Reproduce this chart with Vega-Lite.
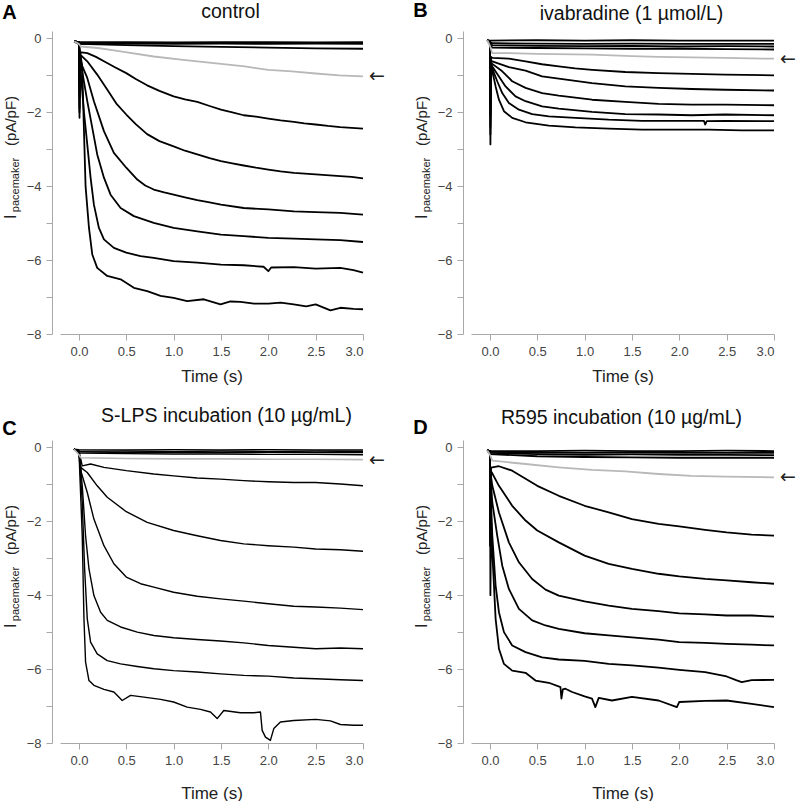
{
  "$schema": "https://vega.github.io/schema/vega-lite/v6.json",
  "background": "white",
  "padding": {"left": 2, "top": 1, "right": 0, "bottom": 0},
  "config": {
    "font": "Liberation Sans",
    "view": {"stroke": null},
    "axis": {"domainColor": "#a8a8a8", "tickColor": "#a8a8a8", "labelColor": "#444444", "titleColor": "#222222", "labelFontSize": 13, "titleFontSize": 17, "titleFontWeight": "normal", "grid": false, "tickSize": 6, "labelPadding": 5}
  },
  "datasets": {
    "A": [
      {"s":"a1","t":-0.05,"v":-0.08},{"s":"a1","t":0,"v":-0.1},{"s":"a1","t":0.5,"v":-0.1},{"s":"a1","t":1,"v":-0.11},{"s":"a1","t":1.5,"v":-0.1},{"s":"a1","t":2,"v":-0.1},{"s":"a1","t":2.5,"v":-0.11},{"s":"a1","t":3,"v":-0.1},
      {"s":"a2","t":-0.05,"v":-0.08},{"s":"a2","t":0,"v":-0.12},{"s":"a2","t":0.5,"v":-0.12},{"s":"a2","t":1,"v":-0.13},{"s":"a2","t":1.5,"v":-0.12},{"s":"a2","t":2,"v":-0.13},{"s":"a2","t":2.5,"v":-0.12},{"s":"a2","t":3,"v":-0.13},
      {"s":"a3","t":-0.05,"v":-0.08},{"s":"a3","t":0,"v":-0.15},{"s":"a3","t":0.5,"v":-0.14},{"s":"a3","t":1,"v":-0.15},{"s":"a3","t":1.5,"v":-0.14},{"s":"a3","t":2,"v":-0.15},{"s":"a3","t":2.5,"v":-0.14},{"s":"a3","t":3,"v":-0.15},
      {"s":"a4","t":-0.05,"v":-0.08},{"s":"a4","t":0,"v":-0.15},{"s":"a4","t":0.5,"v":-0.18},{"s":"a4","t":1,"v":-0.21},{"s":"a4","t":1.5,"v":-0.23},{"s":"a4","t":2,"v":-0.25},{"s":"a4","t":2.5,"v":-0.27},{"s":"a4","t":3,"v":-0.28},
      {"s":"g","t":-0.05,"v":-0.08},{"s":"g","t":0,"v":-0.15},{"s":"g","t":0.02,"v":-0.22},{"s":"g","t":0.2,"v":-0.26},{"s":"g","t":0.44,"v":-0.35},{"s":"g","t":0.79,"v":-0.49},{"s":"g","t":1.1,"v":-0.58},{"s":"g","t":1.5,"v":-0.69},{"s":"g","t":1.75,"v":-0.76},{"s":"g","t":2,"v":-0.85},{"s":"g","t":2.25,"v":-0.89},{"s":"g","t":2.5,"v":-0.95},{"s":"g","t":2.75,"v":-1.0},{"s":"g","t":3,"v":-1.03},
      {"s":"a5","t":-0.05,"v":-0.08},{"s":"a5","t":0,"v":-0.1},{"s":"a5","t":0.006,"v":-1.2},{"s":"a5","t":0.012,"v":-0.4},{"s":"a5","t":0.03,"v":-0.38},{"s":"a5","t":0.088,"v":-0.4},{"s":"a5","t":0.18,"v":-0.5},{"s":"a5","t":0.264,"v":-0.62},{"s":"a5","t":0.38,"v":-0.78},{"s":"a5","t":0.5,"v":-0.94},{"s":"a5","t":0.6,"v":-1.1},{"s":"a5","t":0.72,"v":-1.27},{"s":"a5","t":0.85,"v":-1.42},{"s":"a5","t":1,"v":-1.57},{"s":"a5","t":1.12,"v":-1.65},{"s":"a5","t":1.25,"v":-1.72},{"s":"a5","t":1.38,"v":-1.83},{"s":"a5","t":1.5,"v":-1.93},{"s":"a5","t":1.62,"v":-2.0},{"s":"a5","t":1.74,"v":-2.08},{"s":"a5","t":1.87,"v":-2.12},{"s":"a5","t":2,"v":-2.17},{"s":"a5","t":2.13,"v":-2.22},{"s":"a5","t":2.27,"v":-2.26},{"s":"a5","t":2.38,"v":-2.3},{"s":"a5","t":2.5,"v":-2.33},{"s":"a5","t":2.63,"v":-2.37},{"s":"a5","t":2.76,"v":-2.4},{"s":"a5","t":2.88,"v":-2.42},{"s":"a5","t":3,"v":-2.44},
      {"s":"a6","t":-0.05,"v":-0.08},{"s":"a6","t":0,"v":-0.1},{"s":"a6","t":0.006,"v":-1.6},{"s":"a6","t":0.012,"v":-0.45},{"s":"a6","t":0.03,"v":-0.48},{"s":"a6","t":0.088,"v":-0.62},{"s":"a6","t":0.193,"v":-0.98},{"s":"a6","t":0.3,"v":-1.39},{"s":"a6","t":0.4,"v":-1.78},{"s":"a6","t":0.5,"v":-2.06},{"s":"a6","t":0.6,"v":-2.32},{"s":"a6","t":0.72,"v":-2.59},{"s":"a6","t":0.85,"v":-2.78},{"s":"a6","t":1,"v":-2.92},{"s":"a6","t":1.12,"v":-3.04},{"s":"a6","t":1.25,"v":-3.14},{"s":"a6","t":1.38,"v":-3.24},{"s":"a6","t":1.5,"v":-3.32},{"s":"a6","t":1.62,"v":-3.38},{"s":"a6","t":1.74,"v":-3.44},{"s":"a6","t":1.87,"v":-3.5},{"s":"a6","t":2,"v":-3.55},{"s":"a6","t":2.13,"v":-3.6},{"s":"a6","t":2.27,"v":-3.64},{"s":"a6","t":2.5,"v":-3.68},{"s":"a6","t":2.76,"v":-3.73},{"s":"a6","t":2.88,"v":-3.75},{"s":"a6","t":3,"v":-3.79},
      {"s":"a7","t":-0.05,"v":-0.08},{"s":"a7","t":0,"v":-0.1},{"s":"a7","t":0.006,"v":-1.9},{"s":"a7","t":0.012,"v":-0.5},{"s":"a7","t":0.035,"v":-0.75},{"s":"a7","t":0.088,"v":-1.07},{"s":"a7","t":0.158,"v":-1.7},{"s":"a7","t":0.264,"v":-2.51},{"s":"a7","t":0.369,"v":-3.1},{"s":"a7","t":0.5,"v":-3.5},{"s":"a7","t":0.616,"v":-3.82},{"s":"a7","t":0.7,"v":-3.98},{"s":"a7","t":0.79,"v":-4.09},{"s":"a7","t":0.9,"v":-4.17},{"s":"a7","t":1,"v":-4.23},{"s":"a7","t":1.12,"v":-4.3},{"s":"a7","t":1.25,"v":-4.38},{"s":"a7","t":1.38,"v":-4.44},{"s":"a7","t":1.5,"v":-4.5},{"s":"a7","t":1.74,"v":-4.59},{"s":"a7","t":2,"v":-4.63},{"s":"a7","t":2.27,"v":-4.68},{"s":"a7","t":2.5,"v":-4.7},{"s":"a7","t":2.76,"v":-4.72},{"s":"a7","t":3,"v":-4.77},
      {"s":"a8","t":-0.05,"v":-0.08},{"s":"a8","t":0,"v":-0.1},{"s":"a8","t":0.006,"v":-2.15},{"s":"a8","t":0.012,"v":-0.6},{"s":"a8","t":0.035,"v":-0.9},{"s":"a8","t":0.088,"v":-1.7},{"s":"a8","t":0.141,"v":-2.42},{"s":"a8","t":0.193,"v":-3.14},{"s":"a8","t":0.264,"v":-3.77},{"s":"a8","t":0.334,"v":-4.23},{"s":"a8","t":0.44,"v":-4.59},{"s":"a8","t":0.58,"v":-4.81},{"s":"a8","t":0.79,"v":-4.99},{"s":"a8","t":1,"v":-5.13},{"s":"a8","t":1.25,"v":-5.22},{"s":"a8","t":1.5,"v":-5.31},{"s":"a8","t":1.74,"v":-5.35},{"s":"a8","t":2,"v":-5.4},{"s":"a8","t":2.27,"v":-5.42},{"s":"a8","t":2.5,"v":-5.44},{"s":"a8","t":2.76,"v":-5.46},{"s":"a8","t":3,"v":-5.51},
      {"s":"a9","t":-0.05,"v":-0.08},{"s":"a9","t":0,"v":-0.1},{"s":"a9","t":0.006,"v":-2.0},{"s":"a9","t":0.012,"v":-0.7},{"s":"a9","t":0.053,"v":-2.0},{"s":"a9","t":0.088,"v":-2.87},{"s":"a9","t":0.123,"v":-3.77},{"s":"a9","t":0.158,"v":-4.5},{"s":"a9","t":0.211,"v":-5.13},{"s":"a9","t":0.264,"v":-5.44},{"s":"a9","t":0.369,"v":-5.67},{"s":"a9","t":0.5,"v":-5.8},{"s":"a9","t":0.651,"v":-5.89},{"s":"a9","t":0.79,"v":-5.94},{"s":"a9","t":1,"v":-6.03},{"s":"a9","t":1.25,"v":-6.07},{"s":"a9","t":1.5,"v":-6.12},{"s":"a9","t":1.74,"v":-6.14},{"s":"a9","t":1.95,"v":-6.18},{"s":"a9","t":2,"v":-6.3},{"s":"a9","t":2.03,"v":-6.2},{"s":"a9","t":2.27,"v":-6.19},{"s":"a9","t":2.5,"v":-6.23},{"s":"a9","t":2.76,"v":-6.21},{"s":"a9","t":2.9,"v":-6.27},{"s":"a9","t":3,"v":-6.34},
      {"s":"a10","t":-0.05,"v":-0.08},{"s":"a10","t":0,"v":-0.1},{"s":"a10","t":0.035,"v":-0.8},{"s":"a10","t":0.053,"v":-2.5},{"s":"a10","t":0.07,"v":-4.0},{"s":"a10","t":0.106,"v":-5.13},{"s":"a10","t":0.141,"v":-5.85},{"s":"a10","t":0.193,"v":-6.21},{"s":"a10","t":0.299,"v":-6.43},{"s":"a10","t":0.44,"v":-6.52},{"s":"a10","t":0.58,"v":-6.75},{"s":"a10","t":0.721,"v":-6.84},{"s":"a10","t":0.862,"v":-6.97},{"s":"a10","t":1,"v":-7.02},{"s":"a10","t":1.143,"v":-7.11},{"s":"a10","t":1.319,"v":-7.06},{"s":"a10","t":1.495,"v":-7.2},{"s":"a10","t":1.6,"v":-7.12},{"s":"a10","t":1.706,"v":-7.13},{"s":"a10","t":1.85,"v":-7.18},{"s":"a10","t":2,"v":-7.18},{"s":"a10","t":2.13,"v":-7.15},{"s":"a10","t":2.269,"v":-7.2},{"s":"a10","t":2.4,"v":-7.25},{"s":"a10","t":2.5,"v":-7.2},{"s":"a10","t":2.656,"v":-7.36},{"s":"a10","t":2.761,"v":-7.29},{"s":"a10","t":2.9,"v":-7.32},{"s":"a10","t":3,"v":-7.33}
    ],
    "B": [
      {"s":"b1","t":-0.028,"v":-0.05},{"s":"b1","t":0,"v":-0.06},{"s":"b1","t":0.5,"v":-0.05},{"s":"b1","t":1,"v":-0.06},{"s":"b1","t":1.5,"v":-0.05},{"s":"b1","t":2,"v":-0.06},{"s":"b1","t":2.5,"v":-0.06},{"s":"b1","t":3,"v":-0.06},
      {"s":"b2","t":-0.028,"v":-0.05},{"s":"b2","t":0,"v":-0.1},{"s":"b2","t":0.025,"v":-0.13},{"s":"b2","t":0.5,"v":-0.14},{"s":"b2","t":1,"v":-0.15},{"s":"b2","t":1.5,"v":-0.14},{"s":"b2","t":2,"v":-0.15},{"s":"b2","t":2.5,"v":-0.15},{"s":"b2","t":3,"v":-0.15},
      {"s":"b3","t":-0.028,"v":-0.05},{"s":"b3","t":0,"v":-0.12},{"s":"b3","t":0.025,"v":-0.18},{"s":"b3","t":0.5,"v":-0.2},{"s":"b3","t":1,"v":-0.21},{"s":"b3","t":1.5,"v":-0.2},{"s":"b3","t":2,"v":-0.22},{"s":"b3","t":2.5,"v":-0.21},{"s":"b3","t":3,"v":-0.22},
      {"s":"b4","t":-0.028,"v":-0.05},{"s":"b4","t":0,"v":-0.15},{"s":"b4","t":0.025,"v":-0.25},{"s":"b4","t":0.5,"v":-0.26},{"s":"b4","t":1,"v":-0.27},{"s":"b4","t":1.5,"v":-0.28},{"s":"b4","t":2,"v":-0.28},{"s":"b4","t":2.5,"v":-0.29},{"s":"b4","t":3,"v":-0.3},
      {"s":"g","t":-0.028,"v":-0.05},{"s":"g","t":0,"v":-0.2},{"s":"g","t":0.025,"v":-0.4},{"s":"g","t":0.2,"v":-0.4},{"s":"g","t":0.5,"v":-0.42},{"s":"g","t":1.08,"v":-0.44},{"s":"g","t":1.5,"v":-0.48},{"s":"g","t":1.78,"v":-0.5},{"s":"g","t":2.48,"v":-0.53},{"s":"g","t":3,"v":-0.55},
      {"s":"b5","t":-0.028,"v":-0.05},{"s":"b5","t":0,"v":-0.1},{"s":"b5","t":0.005,"v":-1.5},{"s":"b5","t":0.012,"v":-0.5},{"s":"b5","t":0.025,"v":-0.53},{"s":"b5","t":0.2,"v":-0.55},{"s":"b5","t":0.376,"v":-0.62},{"s":"b5","t":0.55,"v":-0.7},{"s":"b5","t":0.727,"v":-0.76},{"s":"b5","t":0.9,"v":-0.81},{"s":"b5","t":1.08,"v":-0.85},{"s":"b5","t":1.43,"v":-0.91},{"s":"b5","t":1.78,"v":-0.94},{"s":"b5","t":2.13,"v":-0.96},{"s":"b5","t":2.48,"v":-0.98},{"s":"b5","t":3,"v":-1.0},
      {"s":"b6","t":-0.028,"v":-0.05},{"s":"b6","t":0,"v":-0.1},{"s":"b6","t":0.005,"v":-1.8},{"s":"b6","t":0.012,"v":-0.6},{"s":"b6","t":0.025,"v":-0.62},{"s":"b6","t":0.2,"v":-0.78},{"s":"b6","t":0.376,"v":-0.87},{"s":"b6","t":0.551,"v":-1.03},{"s":"b6","t":0.727,"v":-1.09},{"s":"b6","t":1.078,"v":-1.21},{"s":"b6","t":1.43,"v":-1.3},{"s":"b6","t":1.781,"v":-1.34},{"s":"b6","t":2.13,"v":-1.37},{"s":"b6","t":2.483,"v":-1.39},{"s":"b6","t":3,"v":-1.41},
      {"s":"b7","t":-0.028,"v":-0.05},{"s":"b7","t":0,"v":-0.1},{"s":"b7","t":0.005,"v":-2.1},{"s":"b7","t":0.012,"v":-0.65},{"s":"b7","t":0.025,"v":-0.69},{"s":"b7","t":0.13,"v":-0.89},{"s":"b7","t":0.235,"v":-1.16},{"s":"b7","t":0.376,"v":-1.34},{"s":"b7","t":0.551,"v":-1.48},{"s":"b7","t":0.727,"v":-1.55},{"s":"b7","t":1.078,"v":-1.66},{"s":"b7","t":1.43,"v":-1.72},{"s":"b7","t":1.781,"v":-1.77},{"s":"b7","t":2.13,"v":-1.79},{"s":"b7","t":2.483,"v":-1.79},{"s":"b7","t":3,"v":-1.81},
      {"s":"b8","t":-0.028,"v":-0.05},{"s":"b8","t":0,"v":-0.1},{"s":"b8","t":0.005,"v":-2.4},{"s":"b8","t":0.012,"v":-0.7},{"s":"b8","t":0.025,"v":-0.76},{"s":"b8","t":0.095,"v":-1.03},{"s":"b8","t":0.165,"v":-1.3},{"s":"b8","t":0.27,"v":-1.57},{"s":"b8","t":0.376,"v":-1.7},{"s":"b8","t":0.551,"v":-1.84},{"s":"b8","t":0.727,"v":-1.9},{"s":"b8","t":1.078,"v":-1.99},{"s":"b8","t":1.43,"v":-2.05},{"s":"b8","t":1.781,"v":-2.06},{"s":"b8","t":2.13,"v":-2.08},{"s":"b8","t":2.483,"v":-2.06},{"s":"b8","t":3,"v":-2.08},
      {"s":"b9","t":-0.028,"v":-0.05},{"s":"b9","t":0,"v":-0.1},{"s":"b9","t":0.005,"v":-2.6},{"s":"b9","t":0.012,"v":-0.75},{"s":"b9","t":0.025,"v":-0.82},{"s":"b9","t":0.077,"v":-1.16},{"s":"b9","t":0.13,"v":-1.48},{"s":"b9","t":0.2,"v":-1.75},{"s":"b9","t":0.306,"v":-1.93},{"s":"b9","t":0.446,"v":-2.05},{"s":"b9","t":0.622,"v":-2.11},{"s":"b9","t":0.903,"v":-2.15},{"s":"b9","t":1.254,"v":-2.2},{"s":"b9","t":1.605,"v":-2.23},{"s":"b9","t":1.956,"v":-2.23},{"s":"b9","t":2.26,"v":-2.23},{"s":"b9","t":2.273,"v":-2.33},{"s":"b9","t":2.29,"v":-2.24},{"s":"b9","t":2.483,"v":-2.23},{"s":"b9","t":3,"v":-2.24},
      {"s":"b10","t":-0.028,"v":-0.05},{"s":"b10","t":0,"v":-0.1},{"s":"b10","t":0.005,"v":-2.87},{"s":"b10","t":0.012,"v":-0.8},{"s":"b10","t":0.025,"v":-0.89},{"s":"b10","t":0.06,"v":-1.3},{"s":"b10","t":0.095,"v":-1.66},{"s":"b10","t":0.148,"v":-1.97},{"s":"b10","t":0.235,"v":-2.15},{"s":"b10","t":0.376,"v":-2.27},{"s":"b10","t":0.622,"v":-2.36},{"s":"b10","t":0.903,"v":-2.41},{"s":"b10","t":1.254,"v":-2.44},{"s":"b10","t":1.605,"v":-2.47},{"s":"b10","t":1.956,"v":-2.47},{"s":"b10","t":2.308,"v":-2.47},{"s":"b10","t":2.659,"v":-2.49},{"s":"b10","t":3,"v":-2.49}
    ],
    "C": [
      {"s":"c1","t":-0.053,"v":-0.05},{"s":"c1","t":0,"v":-0.06},{"s":"c1","t":0.5,"v":-0.07},{"s":"c1","t":1,"v":-0.06},{"s":"c1","t":1.5,"v":-0.07},{"s":"c1","t":2,"v":-0.06},{"s":"c1","t":2.5,"v":-0.07},{"s":"c1","t":3,"v":-0.07},
      {"s":"c2","t":-0.053,"v":-0.05},{"s":"c2","t":0,"v":-0.1},{"s":"c2","t":0.5,"v":-0.1},{"s":"c2","t":1,"v":-0.11},{"s":"c2","t":1.5,"v":-0.1},{"s":"c2","t":2,"v":-0.11},{"s":"c2","t":2.5,"v":-0.1},{"s":"c2","t":3,"v":-0.11},
      {"s":"c3","t":-0.053,"v":-0.05},{"s":"c3","t":0,"v":-0.12},{"s":"c3","t":0.5,"v":-0.14},{"s":"c3","t":1,"v":-0.13},{"s":"c3","t":1.5,"v":-0.14},{"s":"c3","t":2,"v":-0.13},{"s":"c3","t":2.5,"v":-0.14},{"s":"c3","t":3,"v":-0.14},
      {"s":"c4","t":-0.053,"v":-0.05},{"s":"c4","t":0,"v":-0.15},{"s":"c4","t":0.5,"v":-0.17},{"s":"c4","t":1,"v":-0.18},{"s":"c4","t":1.5,"v":-0.18},{"s":"c4","t":2,"v":-0.19},{"s":"c4","t":2.5,"v":-0.19},{"s":"c4","t":3,"v":-0.2},
      {"s":"g","t":-0.053,"v":-0.05},{"s":"g","t":0,"v":-0.2},{"s":"g","t":0.02,"v":-0.28},{"s":"g","t":0.5,"v":-0.3},{"s":"g","t":1,"v":-0.31},{"s":"g","t":1.5,"v":-0.31},{"s":"g","t":2,"v":-0.32},{"s":"g","t":2.5,"v":-0.32},{"s":"g","t":3,"v":-0.33},
      {"s":"c5","t":-0.053,"v":-0.05},{"s":"c5","t":0,"v":-0.1},{"s":"c5","t":0.035,"v":-0.5},{"s":"c5","t":0.123,"v":-0.45},{"s":"c5","t":0.264,"v":-0.54},{"s":"c5","t":0.5,"v":-0.63},{"s":"c5","t":0.791,"v":-0.72},{"s":"c5","t":1,"v":-0.77},{"s":"c5","t":1.249,"v":-0.83},{"s":"c5","t":1.495,"v":-0.86},{"s":"c5","t":1.741,"v":-0.9},{"s":"c5","t":2,"v":-0.93},{"s":"c5","t":2.269,"v":-0.95},{"s":"c5","t":2.5,"v":-0.95},{"s":"c5","t":2.761,"v":-0.99},{"s":"c5","t":3,"v":-1.04},
      {"s":"c6","t":-0.053,"v":-0.05},{"s":"c6","t":0,"v":-0.1},{"s":"c6","t":0.018,"v":-0.54},{"s":"c6","t":0.088,"v":-0.68},{"s":"c6","t":0.193,"v":-1.04},{"s":"c6","t":0.299,"v":-1.35},{"s":"c6","t":0.5,"v":-1.74},{"s":"c6","t":0.721,"v":-2.03},{"s":"c6","t":1,"v":-2.25},{"s":"c6","t":1.249,"v":-2.39},{"s":"c6","t":1.495,"v":-2.52},{"s":"c6","t":1.741,"v":-2.61},{"s":"c6","t":2,"v":-2.66},{"s":"c6","t":2.269,"v":-2.7},{"s":"c6","t":2.5,"v":-2.75},{"s":"c6","t":2.761,"v":-2.77},{"s":"c6","t":3,"v":-2.81},
      {"s":"c7","t":-0.053,"v":-0.05},{"s":"c7","t":0,"v":-0.1},{"s":"c7","t":0.025,"v":-0.68},{"s":"c7","t":0.088,"v":-1.22},{"s":"c7","t":0.158,"v":-1.94},{"s":"c7","t":0.264,"v":-2.66},{"s":"c7","t":0.369,"v":-3.15},{"s":"c7","t":0.5,"v":-3.51},{"s":"c7","t":0.651,"v":-3.69},{"s":"c7","t":0.791,"v":-3.78},{"s":"c7","t":1,"v":-3.92},{"s":"c7","t":1.249,"v":-4.03},{"s":"c7","t":1.495,"v":-4.1},{"s":"c7","t":1.741,"v":-4.16},{"s":"c7","t":2,"v":-4.23},{"s":"c7","t":2.269,"v":-4.3},{"s":"c7","t":2.5,"v":-4.32},{"s":"c7","t":2.761,"v":-4.35},{"s":"c7","t":3,"v":-4.39},
      {"s":"c8","t":-0.053,"v":-0.05},{"s":"c8","t":0,"v":-0.1},{"s":"c8","t":0.035,"v":-1.04},{"s":"c8","t":0.07,"v":-2.39},{"s":"c8","t":0.106,"v":-3.29},{"s":"c8","t":0.158,"v":-4.01},{"s":"c8","t":0.229,"v":-4.46},{"s":"c8","t":0.299,"v":-4.68},{"s":"c8","t":0.44,"v":-4.86},{"s":"c8","t":0.616,"v":-5.0},{"s":"c8","t":0.791,"v":-5.09},{"s":"c8","t":1,"v":-5.15},{"s":"c8","t":1.249,"v":-5.2},{"s":"c8","t":1.495,"v":-5.24},{"s":"c8","t":1.741,"v":-5.29},{"s":"c8","t":2,"v":-5.36},{"s":"c8","t":2.269,"v":-5.41},{"s":"c8","t":2.5,"v":-5.45},{"s":"c8","t":2.761,"v":-5.43},{"s":"c8","t":3,"v":-5.45},
      {"s":"c9","t":-0.053,"v":-0.05},{"s":"c9","t":0,"v":-0.1},{"s":"c9","t":0.035,"v":-1.49},{"s":"c9","t":0.06,"v":-3.29},{"s":"c9","t":0.088,"v":-4.64},{"s":"c9","t":0.123,"v":-5.27},{"s":"c9","t":0.193,"v":-5.59},{"s":"c9","t":0.299,"v":-5.77},{"s":"c9","t":0.44,"v":-5.86},{"s":"c9","t":0.616,"v":-5.93},{"s":"c9","t":0.791,"v":-5.99},{"s":"c9","t":1,"v":-6.04},{"s":"c9","t":1.249,"v":-6.08},{"s":"c9","t":1.495,"v":-6.13},{"s":"c9","t":1.741,"v":-6.17},{"s":"c9","t":2,"v":-6.19},{"s":"c9","t":2.269,"v":-6.24},{"s":"c9","t":2.5,"v":-6.26},{"s":"c9","t":2.761,"v":-6.29},{"s":"c9","t":3,"v":-6.31},
      {"s":"c10","t":-0.053,"v":-0.05},{"s":"c10","t":0,"v":-0.1},{"s":"c10","t":0.035,"v":-2.39},{"s":"c10","t":0.053,"v":-4.64},{"s":"c10","t":0.07,"v":-5.81},{"s":"c10","t":0.106,"v":-6.31},{"s":"c10","t":0.158,"v":-6.44},{"s":"c10","t":0.264,"v":-6.55},{"s":"c10","t":0.369,"v":-6.62},{"s":"c10","t":0.457,"v":-6.85},{"s":"c10","t":0.545,"v":-6.71},{"s":"c10","t":0.686,"v":-6.76},{"s":"c10","t":0.862,"v":-6.82},{"s":"c10","t":1,"v":-6.89},{"s":"c10","t":1.143,"v":-7.03},{"s":"c10","t":1.284,"v":-7.09},{"s":"c10","t":1.389,"v":-7.16},{"s":"c10","t":1.46,"v":-7.34},{"s":"c10","t":1.53,"v":-7.12},{"s":"c10","t":1.706,"v":-7.18},{"s":"c10","t":1.847,"v":-7.18},{"s":"c10","t":1.917,"v":-7.16},{"s":"c10","t":1.935,"v":-7.66},{"s":"c10","t":1.97,"v":-7.84},{"s":"c10","t":2.022,"v":-7.93},{"s":"c10","t":2.058,"v":-7.61},{"s":"c10","t":2.128,"v":-7.43},{"s":"c10","t":2.269,"v":-7.39},{"s":"c10","t":2.5,"v":-7.36},{"s":"c10","t":2.656,"v":-7.4},{"s":"c10","t":2.761,"v":-7.5},{"s":"c10","t":2.902,"v":-7.52},{"s":"c10","t":3,"v":-7.52}
    ],
    "D": [
      {"s":"d1","t":-0.028,"v":-0.08},{"s":"d1","t":0,"v":-0.1},{"s":"d1","t":0.5,"v":-0.1},{"s":"d1","t":1,"v":-0.09},{"s":"d1","t":1.5,"v":-0.1},{"s":"d1","t":2,"v":-0.1},{"s":"d1","t":2.5,"v":-0.09},{"s":"d1","t":3,"v":-0.1},
      {"s":"d2","t":-0.028,"v":-0.08},{"s":"d2","t":0,"v":-0.12},{"s":"d2","t":0.5,"v":-0.14},{"s":"d2","t":1,"v":-0.15},{"s":"d2","t":1.5,"v":-0.14},{"s":"d2","t":2,"v":-0.15},{"s":"d2","t":2.5,"v":-0.15},{"s":"d2","t":3,"v":-0.15},
      {"s":"d3","t":-0.028,"v":-0.08},{"s":"d3","t":0,"v":-0.15},{"s":"d3","t":0.5,"v":-0.18},{"s":"d3","t":1,"v":-0.2},{"s":"d3","t":1.5,"v":-0.19},{"s":"d3","t":2,"v":-0.2},{"s":"d3","t":2.5,"v":-0.2},{"s":"d3","t":3,"v":-0.21},
      {"s":"d4","t":-0.028,"v":-0.08},{"s":"d4","t":0,"v":-0.18},{"s":"d4","t":0.5,"v":-0.24},{"s":"d4","t":1,"v":-0.26},{"s":"d4","t":1.5,"v":-0.27},{"s":"d4","t":2,"v":-0.28},{"s":"d4","t":2.5,"v":-0.28},{"s":"d4","t":3,"v":-0.28},
      {"s":"g","t":-0.028,"v":-0.08},{"s":"g","t":0,"v":-0.2},{"s":"g","t":0.025,"v":-0.36},{"s":"g","t":0.376,"v":-0.45},{"s":"g","t":0.727,"v":-0.54},{"s":"g","t":1.078,"v":-0.61},{"s":"g","t":1.43,"v":-0.65},{"s":"g","t":1.781,"v":-0.72},{"s":"g","t":2.13,"v":-0.77},{"s":"g","t":2.483,"v":-0.79},{"s":"g","t":3,"v":-0.81},
      {"s":"d5","t":-0.028,"v":-0.08},{"s":"d5","t":0,"v":-0.1},{"s":"d5","t":0.005,"v":-2.0},{"s":"d5","t":0.012,"v":-0.55},{"s":"d5","t":0.025,"v":-0.54},{"s":"d5","t":0.095,"v":-0.51},{"s":"d5","t":0.235,"v":-0.63},{"s":"d5","t":0.5,"v":-1.04},{"s":"d5","t":0.727,"v":-1.31},{"s":"d5","t":1,"v":-1.58},{"s":"d5","t":1.254,"v":-1.76},{"s":"d5","t":1.5,"v":-1.94},{"s":"d5","t":1.781,"v":-2.07},{"s":"d5","t":2,"v":-2.14},{"s":"d5","t":2.273,"v":-2.23},{"s":"d5","t":2.5,"v":-2.3},{"s":"d5","t":2.764,"v":-2.36},{"s":"d5","t":3,"v":-2.39},
      {"s":"d6","t":-0.028,"v":-0.08},{"s":"d6","t":0,"v":-0.1},{"s":"d6","t":0.005,"v":-2.4},{"s":"d6","t":0.012,"v":-0.65},{"s":"d6","t":0.02,"v":-0.68},{"s":"d6","t":0.095,"v":-1.04},{"s":"d6","t":0.235,"v":-1.58},{"s":"d6","t":0.376,"v":-1.98},{"s":"d6","t":0.5,"v":-2.25},{"s":"d6","t":0.727,"v":-2.57},{"s":"d6","t":1,"v":-2.93},{"s":"d6","t":1.254,"v":-3.15},{"s":"d6","t":1.5,"v":-3.29},{"s":"d6","t":1.781,"v":-3.42},{"s":"d6","t":2,"v":-3.49},{"s":"d6","t":2.273,"v":-3.56},{"s":"d6","t":2.5,"v":-3.6},{"s":"d6","t":2.764,"v":-3.65},{"s":"d6","t":3,"v":-3.69},
      {"s":"d7","t":-0.028,"v":-0.08},{"s":"d7","t":0,"v":-0.1},{"s":"d7","t":0.005,"v":-2.66},{"s":"d7","t":0.012,"v":-0.8},{"s":"d7","t":0.025,"v":-1.04},{"s":"d7","t":0.095,"v":-1.76},{"s":"d7","t":0.2,"v":-2.57},{"s":"d7","t":0.306,"v":-3.11},{"s":"d7","t":0.446,"v":-3.56},{"s":"d7","t":0.587,"v":-3.85},{"s":"d7","t":0.727,"v":-4.01},{"s":"d7","t":1,"v":-4.17},{"s":"d7","t":1.254,"v":-4.28},{"s":"d7","t":1.5,"v":-4.37},{"s":"d7","t":1.781,"v":-4.43},{"s":"d7","t":2,"v":-4.49},{"s":"d7","t":2.273,"v":-4.52},{"s":"d7","t":2.5,"v":-4.55},{"s":"d7","t":2.764,"v":-4.55},{"s":"d7","t":3,"v":-4.58},
      {"s":"d8","t":-0.028,"v":-0.08},{"s":"d8","t":0,"v":-0.1},{"s":"d8","t":0.005,"v":-2.66},{"s":"d8","t":0.012,"v":-1.0},{"s":"d8","t":0.025,"v":-1.49},{"s":"d8","t":0.077,"v":-2.39},{"s":"d8","t":0.13,"v":-3.2},{"s":"d8","t":0.2,"v":-3.83},{"s":"d8","t":0.306,"v":-4.37},{"s":"d8","t":0.446,"v":-4.68},{"s":"d8","t":0.587,"v":-4.82},{"s":"d8","t":0.727,"v":-4.91},{"s":"d8","t":1,"v":-5.03},{"s":"d8","t":1.254,"v":-5.09},{"s":"d8","t":1.5,"v":-5.14},{"s":"d8","t":1.781,"v":-5.2},{"s":"d8","t":2,"v":-5.27},{"s":"d8","t":2.273,"v":-5.29},{"s":"d8","t":2.5,"v":-5.32},{"s":"d8","t":2.764,"v":-5.34},{"s":"d8","t":3,"v":-5.36},
      {"s":"d9","t":-0.028,"v":-0.08},{"s":"d9","t":0,"v":-0.1},{"s":"d9","t":0.005,"v":-2.66},{"s":"d9","t":0.012,"v":-1.5},{"s":"d9","t":0.025,"v":-2.39},{"s":"d9","t":0.06,"v":-3.74},{"s":"d9","t":0.095,"v":-4.46},{"s":"d9","t":0.148,"v":-5.0},{"s":"d9","t":0.235,"v":-5.36},{"s":"d9","t":0.376,"v":-5.54},{"s":"d9","t":0.551,"v":-5.68},{"s":"d9","t":0.727,"v":-5.74},{"s":"d9","t":1,"v":-5.78},{"s":"d9","t":1.254,"v":-5.86},{"s":"d9","t":1.5,"v":-5.9},{"s":"d9","t":1.781,"v":-5.96},{"s":"d9","t":2,"v":-6.02},{"s":"d9","t":2.273,"v":-6.08},{"s":"d9","t":2.5,"v":-6.2},{"s":"d9","t":2.6,"v":-6.3},{"s":"d9","t":2.659,"v":-6.35},{"s":"d9","t":2.764,"v":-6.3},{"s":"d9","t":3,"v":-6.29},
      {"s":"d10","t":-0.028,"v":-0.08},{"s":"d10","t":0,"v":-0.1},{"s":"d10","t":0.005,"v":-4.0},{"s":"d10","t":0.012,"v":-2.0},{"s":"d10","t":0.025,"v":-2.84},{"s":"d10","t":0.06,"v":-4.64},{"s":"d10","t":0.095,"v":-5.45},{"s":"d10","t":0.148,"v":-5.86},{"s":"d10","t":0.235,"v":-6.04},{"s":"d10","t":0.376,"v":-6.1},{"s":"d10","t":0.481,"v":-6.31},{"s":"d10","t":0.622,"v":-6.37},{"s":"d10","t":0.745,"v":-6.49},{"s":"d10","t":0.755,"v":-6.8},{"s":"d10","t":0.77,"v":-6.55},{"s":"d10","t":0.797,"v":-6.53},{"s":"d10","t":0.868,"v":-6.62},{"s":"d10","t":1,"v":-6.74},{"s":"d10","t":1.078,"v":-6.8},{"s":"d10","t":1.113,"v":-7.03},{"s":"d10","t":1.149,"v":-6.78},{"s":"d10","t":1.289,"v":-6.85},{"s":"d10","t":1.5,"v":-6.75},{"s":"d10","t":1.781,"v":-6.85},{"s":"d10","t":1.974,"v":-7.03},{"s":"d10","t":2,"v":-6.89},{"s":"d10","t":2.273,"v":-6.86},{"s":"d10","t":2.5,"v":-6.85},{"s":"d10","t":2.764,"v":-6.94},{"s":"d10","t":3,"v":-7.03}
    ]
  },
  "columns": 2,
  "spacing": {"row": 21, "column": 28},
  "concat": [
    {
      "width": 303, "height": 303,
      "data": {"name": "A"},
      "title": {"text": "A", "anchor": "start", "frame": "bounds", "fontSize": 20, "fontWeight": "bold", "color": "black", "baseline": "alphabetic", "offset": -21, "dy": 16.5},
      "layer": [
        {"transform": [{"filter": "datum.s !== 'g'"}],
         "mark": {"type": "line", "strokeWidth": 1.8, "strokeJoin": "round", "color": "black"},
         "encoding": {
           "x": {"field": "t", "type": "quantitative", "scale": {"domain": [-0.2, 3], "nice": false, "zero": false}, "axis": {"orient": "bottom", "values": [0, 0.5, 1, 1.5, 2, 2.5, 3], "format": ".1f", "title": "Time (s)", "titlePadding": 10, "labelPadding": 5}},
           "y": {"field": "v", "type": "quantitative", "scale": {"domain": [-8, 0.2], "nice": false, "zero": false}, "axis": {"orient": "left", "values": [-8, -7, -6, -5, -4, -3, -2, -1, 0], "labelExpr": "datum.value % 2 == 0 ? datum.label : ''", "offset": 8, "title": "(pA/pF)", "titleFontSize": 15, "titleX": -36.8, "titleY": 89.4, "titleAngle": 270, "titleAlign": "center", "titleBaseline": "alphabetic"}},
           "detail": {"field": "s"}
         }},
        {"transform": [{"filter": "datum.s === 'g'"}],
         "mark": {"type": "line", "strokeWidth": 1.8, "strokeJoin": "round", "color": "#b8b8b8"},
         "encoding": {
           "x": {"field": "t", "type": "quantitative", "scale": {"domain": [-0.2, 3], "nice": false, "zero": false}, "axis": {"orient": "top", "title": "control", "labels": false, "ticks": false, "domain": false, "titleFontSize": 19.5, "titleColor": "#111111", "titleX": 170, "titleY": -13.5, "titleAlign": "center", "titleBaseline": "alphabetic"}},
           "y": {"field": "v", "type": "quantitative", "scale": {"domain": [-8, 0.2], "nice": false, "zero": false}, "axis": {"orient": "left", "offset": 8, "domain": false, "ticks": false, "labels": false, "title": "pacemaker", "titleFontSize": 11, "titleX": -33.8, "titleY": 153.5, "titleAngle": 270, "titleAlign": "center", "titleBaseline": "alphabetic"}}
         }},
        {"transform": [{"filter": "datum.s === 'g' && datum.t === 3"}],
         "mark": {"type": "text", "text": "←", "align": "left", "baseline": "middle", "dx": 6, "fontSize": 19, "font": "DejaVu Sans", "color": "#222222"},
         "encoding": {
           "x": {"field": "t", "type": "quantitative", "scale": {"domain": [-0.2, 3], "nice": false, "zero": false}, "axis": null},
           "y": {"field": "v", "type": "quantitative", "scale": {"domain": [-8, 0.2], "nice": false, "zero": false}, "axis": {"orient": "left", "offset": 8, "domain": false, "ticks": false, "labels": false, "title": "I", "titleFontSize": 16, "titleX": -36.8, "titleY": 185.4, "titleAngle": 270, "titleAlign": "center", "titleBaseline": "alphabetic"}}
         }}
      ],
      "resolve": {"axis": {"x": "independent", "y": "independent"}}
    },
    {
      "width": 303, "height": 303,
      "data": {"name": "B"},
      "title": {"text": "B", "anchor": "start", "frame": "bounds", "fontSize": 20, "fontWeight": "bold", "color": "black", "baseline": "alphabetic", "offset": -21, "dy": 13},
      "layer": [
        {"transform": [{"filter": "datum.s !== 'g'"}],
         "mark": {"type": "line", "strokeWidth": 1.8, "strokeJoin": "round", "color": "black"},
         "encoding": {
           "x": {"field": "t", "type": "quantitative", "scale": {"domain": [-0.2, 3], "nice": false, "zero": false}, "axis": {"orient": "bottom", "values": [0, 0.5, 1, 1.5, 2, 2.5, 3], "format": ".1f", "title": "Time (s)", "titlePadding": 10, "labelPadding": 5}},
           "y": {"field": "v", "type": "quantitative", "scale": {"domain": [-8, 0.2], "nice": false, "zero": false}, "axis": {"orient": "left", "values": [-8, -7, -6, -5, -4, -3, -2, -1, 0], "labelExpr": "datum.value % 2 == 0 ? datum.label : ''", "offset": 8, "title": "(pA/pF)", "titleFontSize": 15, "titleX": -36.8, "titleY": 89.4, "titleAngle": 270, "titleAlign": "center", "titleBaseline": "alphabetic"}},
           "detail": {"field": "s"}
         }},
        {"transform": [{"filter": "datum.s === 'g'"}],
         "mark": {"type": "line", "strokeWidth": 1.8, "strokeJoin": "round", "color": "#b8b8b8"},
         "encoding": {
           "x": {"field": "t", "type": "quantitative", "scale": {"domain": [-0.2, 3], "nice": false, "zero": false}, "axis": {"orient": "top", "title": "ivabradine (1 µmol/L)", "labels": false, "ticks": false, "domain": false, "titleFontSize": 19.5, "titleColor": "#111111", "titleX": 160, "titleY": -11.6, "titleAlign": "center", "titleBaseline": "alphabetic"}},
           "y": {"field": "v", "type": "quantitative", "scale": {"domain": [-8, 0.2], "nice": false, "zero": false}, "axis": {"orient": "left", "offset": 8, "domain": false, "ticks": false, "labels": false, "title": "pacemaker", "titleFontSize": 11, "titleX": -33.8, "titleY": 153.5, "titleAngle": 270, "titleAlign": "center", "titleBaseline": "alphabetic"}}
         }},
        {"transform": [{"filter": "datum.s === 'g' && datum.t === 3"}],
         "mark": {"type": "text", "text": "←", "align": "left", "baseline": "middle", "dx": 6, "fontSize": 19, "font": "DejaVu Sans", "color": "#222222"},
         "encoding": {
           "x": {"field": "t", "type": "quantitative", "scale": {"domain": [-0.2, 3], "nice": false, "zero": false}, "axis": null},
           "y": {"field": "v", "type": "quantitative", "scale": {"domain": [-8, 0.2], "nice": false, "zero": false}, "axis": {"orient": "left", "offset": 8, "domain": false, "ticks": false, "labels": false, "title": "I", "titleFontSize": 16, "titleX": -36.8, "titleY": 185.4, "titleAngle": 270, "titleAlign": "center", "titleBaseline": "alphabetic"}}
         }}
      ],
      "resolve": {"axis": {"x": "independent", "y": "independent"}}
    },
    {
      "width": 303, "height": 303,
      "data": {"name": "C"},
      "title": {"text": "C", "anchor": "start", "frame": "bounds", "fontSize": 20, "fontWeight": "bold", "color": "black", "baseline": "alphabetic", "offset": -21, "dy": 29},
      "layer": [
        {"transform": [{"filter": "datum.s !== 'g'"}],
         "mark": {"type": "line", "strokeWidth": 1.4, "strokeJoin": "round", "color": "black"},
         "encoding": {
           "x": {"field": "t", "type": "quantitative", "scale": {"domain": [-0.2, 3], "nice": false, "zero": false}, "axis": {"orient": "bottom", "values": [0, 0.5, 1, 1.5, 2, 2.5, 3], "format": ".1f", "title": "Time (s)", "titlePadding": 18, "labelPadding": 5}},
           "y": {"field": "v", "type": "quantitative", "scale": {"domain": [-8, 0.2], "nice": false, "zero": false}, "axis": {"orient": "left", "values": [-8, -7, -6, -5, -4, -3, -2, -1, 0], "labelExpr": "datum.value % 2 == 0 ? datum.label : ''", "offset": 8, "title": "(pA/pF)", "titleFontSize": 15, "titleX": -36.8, "titleY": 89.4, "titleAngle": 270, "titleAlign": "center", "titleBaseline": "alphabetic"}},
           "detail": {"field": "s"}
         }},
        {"transform": [{"filter": "datum.s === 'g'"}],
         "mark": {"type": "line", "strokeWidth": 1.6, "strokeJoin": "round", "color": "#b8b8b8"},
         "encoding": {
           "x": {"field": "t", "type": "quantitative", "scale": {"domain": [-0.2, 3], "nice": false, "zero": false}, "axis": {"orient": "top", "title": "S-LPS incubation (10 µg/mL)", "labels": false, "ticks": false, "domain": false, "titleFontSize": 19.5, "titleColor": "#111111", "titleX": 166, "titleY": -19, "titleAlign": "center", "titleBaseline": "alphabetic"}},
           "y": {"field": "v", "type": "quantitative", "scale": {"domain": [-8, 0.2], "nice": false, "zero": false}, "axis": {"orient": "left", "offset": 8, "domain": false, "ticks": false, "labels": false, "title": "pacemaker", "titleFontSize": 11, "titleX": -33.8, "titleY": 153.5, "titleAngle": 270, "titleAlign": "center", "titleBaseline": "alphabetic"}}
         }},
        {"transform": [{"filter": "datum.s === 'g' && datum.t === 3"}],
         "mark": {"type": "text", "text": "←", "align": "left", "baseline": "middle", "dx": 6, "fontSize": 19, "font": "DejaVu Sans", "color": "#222222"},
         "encoding": {
           "x": {"field": "t", "type": "quantitative", "scale": {"domain": [-0.2, 3], "nice": false, "zero": false}, "axis": null},
           "y": {"field": "v", "type": "quantitative", "scale": {"domain": [-8, 0.2], "nice": false, "zero": false}, "axis": {"orient": "left", "offset": 8, "domain": false, "ticks": false, "labels": false, "title": "I", "titleFontSize": 16, "titleX": -36.8, "titleY": 185.4, "titleAngle": 270, "titleAlign": "center", "titleBaseline": "alphabetic"}}
         }}
      ],
      "resolve": {"axis": {"x": "independent", "y": "independent"}}
    },
    {
      "width": 303, "height": 303,
      "data": {"name": "D"},
      "title": {"text": "D", "anchor": "start", "frame": "bounds", "fontSize": 20, "fontWeight": "bold", "color": "black", "baseline": "alphabetic", "offset": -21, "dy": 25.5},
      "layer": [
        {"transform": [{"filter": "datum.s !== 'g'"}],
         "mark": {"type": "line", "strokeWidth": 1.8, "strokeJoin": "round", "color": "black"},
         "encoding": {
           "x": {"field": "t", "type": "quantitative", "scale": {"domain": [-0.2, 3], "nice": false, "zero": false}, "axis": {"orient": "bottom", "values": [0, 0.5, 1, 1.5, 2, 2.5, 3], "format": ".1f", "title": "Time (s)", "titlePadding": 18, "labelPadding": 5}},
           "y": {"field": "v", "type": "quantitative", "scale": {"domain": [-8, 0.2], "nice": false, "zero": false}, "axis": {"orient": "left", "values": [-8, -7, -6, -5, -4, -3, -2, -1, 0], "labelExpr": "datum.value % 2 == 0 ? datum.label : ''", "offset": 8, "title": "(pA/pF)", "titleFontSize": 15, "titleX": -36.8, "titleY": 89.4, "titleAngle": 270, "titleAlign": "center", "titleBaseline": "alphabetic"}},
           "detail": {"field": "s"}
         }},
        {"transform": [{"filter": "datum.s === 'g'"}],
         "mark": {"type": "line", "strokeWidth": 1.8, "strokeJoin": "round", "color": "#b8b8b8"},
         "encoding": {
           "x": {"field": "t", "type": "quantitative", "scale": {"domain": [-0.2, 3], "nice": false, "zero": false}, "axis": {"orient": "top", "title": "R595 incubation (10 µg/mL)", "labels": false, "ticks": false, "domain": false, "titleFontSize": 19.5, "titleColor": "#111111", "titleX": 150, "titleY": -17, "titleAlign": "center", "titleBaseline": "alphabetic"}},
           "y": {"field": "v", "type": "quantitative", "scale": {"domain": [-8, 0.2], "nice": false, "zero": false}, "axis": {"orient": "left", "offset": 8, "domain": false, "ticks": false, "labels": false, "title": "pacemaker", "titleFontSize": 11, "titleX": -33.8, "titleY": 153.5, "titleAngle": 270, "titleAlign": "center", "titleBaseline": "alphabetic"}}
         }},
        {"transform": [{"filter": "datum.s === 'g' && datum.t === 3"}],
         "mark": {"type": "text", "text": "←", "align": "left", "baseline": "middle", "dx": 6, "fontSize": 19, "font": "DejaVu Sans", "color": "#222222"},
         "encoding": {
           "x": {"field": "t", "type": "quantitative", "scale": {"domain": [-0.2, 3], "nice": false, "zero": false}, "axis": null},
           "y": {"field": "v", "type": "quantitative", "scale": {"domain": [-8, 0.2], "nice": false, "zero": false}, "axis": {"orient": "left", "offset": 8, "domain": false, "ticks": false, "labels": false, "title": "I", "titleFontSize": 16, "titleX": -36.8, "titleY": 185.4, "titleAngle": 270, "titleAlign": "center", "titleBaseline": "alphabetic"}}
         }}
      ],
      "resolve": {"axis": {"x": "independent", "y": "independent"}}
    }
  ]
}
